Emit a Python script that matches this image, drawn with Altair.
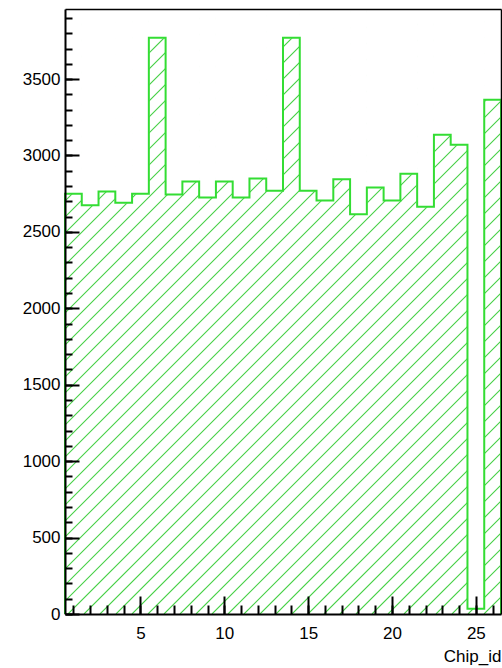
import altair as alt
import pandas as pd

# Entries per chip (one bin per chip id)
chip_id = list(range(1, 27))
entries = [2750, 2675, 2765, 2690, 2750, 3770, 2745, 2830, 2725, 2830, 2725, 2850, 2770,
           3770, 2770, 2705, 2845, 2615, 2790, 2705, 2880, 2665, 3135, 3070, 35, 3365]

x_labels = [5, 10, 15, 20, 25]
x_minor = list(range(1, 27))
y_labels = [0, 500, 1000, 1500, 2000, 2500, 3000, 3500]
y_minor = list(range(0, 4000, 100))

W, H = 436, 605
x_lo, x_hi = 0.5, 26.5
y_hi = 1.05 * max(entries)

FONT = "Liberation Sans"
LINE_GREEN = "#33dd33"
HATCH_GREEN = "#45d045"

# One row per bin, with its edges
bins = pd.DataFrame({"chip": chip_id, "count": entries})
bins["lo"] = bins["chip"] - 0.5
bins["hi"] = bins["chip"] + 0.5
bins["top"] = y_hi

# Step-after outline: left edge of each bin, closed at both ends down to zero
edges = [c - 0.5 for c in chip_id] + [chip_id[-1] + 0.5]
heights = entries + [entries[-1]]
outline = pd.DataFrame({
    "edge": [edges[0]] + edges + [edges[-1]],
    "count": [0] + heights + [0],
})
outline["idx"] = range(len(outline))

# Fill style 3004-like hatch: 45-degree lines on screen, 16 px apart horizontally.
# Expressed in data units so the lines go through the chart's scales.
x_per_px = (x_hi - x_lo) / W
pitch = 16 * x_per_px
run = H * x_per_px                       # x travelled while climbing the full height
starts = []
s = x_lo - run
while s < x_hi:
    starts.append(s)
    s += pitch
hatch = pd.DataFrame({"hx0": starts})
hatch["hx1"] = hatch["hx0"] + run
hatch["hy0"] = 0.0
hatch["hy1"] = y_hi

x_scale = alt.Scale(domain=[x_lo, x_hi], nice=False, zero=False)
y_scale = alt.Scale(domain=[0, y_hi], nice=False)

label_x_axis = alt.Axis(
    values=x_labels, orient="bottom", ticks=False, tickSize=0, grid=False,
    labelFont=FONT, labelFontSize=17, labelColor="black", labelPadding=11,
    labelFlush=False, labelOverlap=False,
    domainColor="black", domainWidth=2, zindex=1,
    title="Chip_id", titleFont=FONT, titleFontSize=17, titleFontWeight="normal",
    titleColor="black", titleX=W, titleY=47, titleAlign="right",
    titleBaseline="alphabetic",
)
label_y_axis = alt.Axis(
    values=y_labels, orient="left", ticks=False, tickSize=0, grid=False,
    labelFont=FONT, labelFontSize=17, labelColor="black", labelPadding=5,
    labelOverlap=False, format="d", zindex=1,
    domainColor="black", domainWidth=2, title=None,
)
frame_x_axis = alt.Axis(orient="top", ticks=False, labels=False, grid=False,
                        domainColor="black", domainWidth=1.5, title=None, zindex=1)
frame_y_axis = alt.Axis(orient="right", ticks=False, labels=False, grid=False,
                        domainColor="black", domainWidth=1.5, title=None, zindex=1)


def tick_axis_x(vals, size):
    return alt.Axis(values=vals, orient="top", offset=-H, labels=False, domain=False,
                    grid=False, tickSize=size, tickWidth=2, tickColor="black",
                    title=None, zindex=1)


def tick_axis_y(vals, size):
    return alt.Axis(values=vals, orient="right", offset=-W, labels=False, domain=False,
                    grid=False, tickSize=size, tickWidth=2, tickColor="black",
                    title=None, zindex=1)


hatch_lines = alt.Chart(hatch).mark_rule(color=HATCH_GREEN, strokeWidth=1.1,
                                         clip=True).encode(
    x=alt.X("hx0:Q", scale=x_scale, axis=label_x_axis),
    x2="hx1:Q",
    y=alt.Y("hy0:Q", scale=y_scale, axis=label_y_axis),
    y2="hy1:Q",
)

# White cover above each bin hides the hatch outside the histogram
cover = alt.Chart(bins).mark_bar(color="white", stroke="white", strokeWidth=1,
                                 opacity=1).encode(
    x=alt.X("lo:Q", scale=x_scale, axis=frame_x_axis),
    x2="hi:Q",
    y=alt.Y("count:Q", scale=y_scale, axis=frame_y_axis),
    y2="top:Q",
)

line = alt.Chart(outline).mark_line(interpolate="step-after", color=LINE_GREEN,
                                    strokeWidth=2).encode(
    x=alt.X("edge:Q", scale=x_scale, axis=tick_axis_x(x_minor, 9)),
    y=alt.Y("count:Q", scale=y_scale, axis=tick_axis_y(y_minor, 7)),
    order=alt.Order("idx:Q"),
)

major = alt.Chart(outline).mark_line(opacity=0).encode(
    x=alt.X("edge:Q", scale=x_scale, axis=tick_axis_x(x_labels, 18)),
    y=alt.Y("count:Q", scale=y_scale, axis=tick_axis_y(y_labels, 14)),
    order=alt.Order("idx:Q"),
)

chart = alt.layer(hatch_lines, cover, line, major).resolve_axis(
    x="independent", y="independent"
).properties(
    width=W, height=H,
    padding={"left": 65, "top": 9, "right": 1, "bottom": 54},
    autosize=alt.AutoSizeParams(type="none"),
    background="white",
).configure_view(stroke=None)

chart.save("out.html", embed_options={"renderer": "svg", "actions": False})
